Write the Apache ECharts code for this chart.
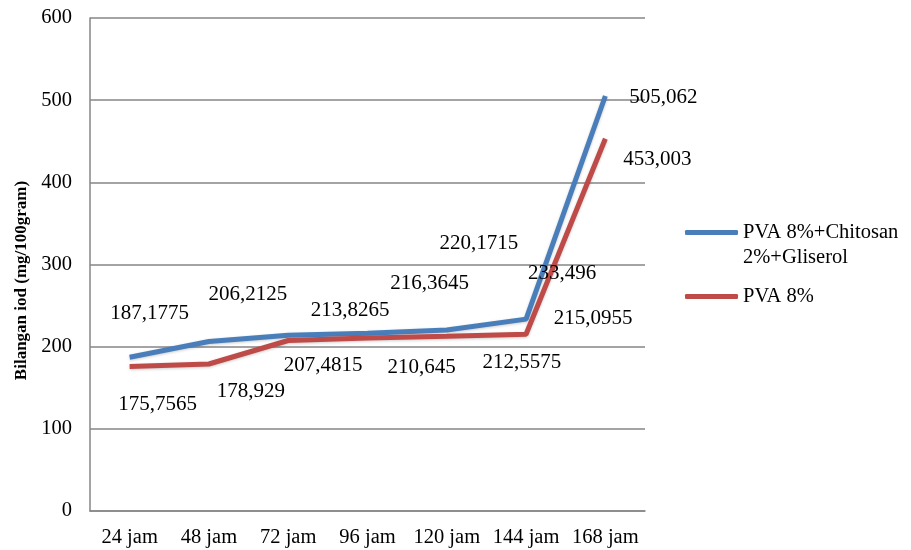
<!DOCTYPE html>
<html>
<head>
<meta charset="utf-8">
<script src="https://cdn.jsdelivr.net/npm/echarts@6/dist/echarts.min.js"></script>
<style>
  html, body { margin: 0; padding: 0; background: #ffffff; }
  #chart { width: 911px; height: 550px; }
</style>
</head>
<body>
<div id="chart"></div>
<script>
// Iodine value over storage time
const categories = ['24 jam', '48 jam', '72 jam', '96 jam', '120 jam', '144 jam', '168 jam'];
const blendName = 'PVA 8%+Chitosan 2%+Gliserol';
const pvaName = 'PVA 8%';
const blendValues = [187.1775, 206.2125, 213.8265, 216.3645, 220.1715, 233.496, 505.062];
const pvaValues = [175.7565, 178.929, 207.4815, 210.645, 212.5575, 215.0955, 453.003];
const yTicks = { min: 0, max: 600, interval: 100 };

// label nudges (px) from each point, keeps labels clear of the lines
const blendNudge = [[20, -44], [39, -47], [62, -25], [62, -50], [32, -87], [36, -46], [58, 1]];
const pvaNudge = [[28, 38], [42, 28], [35, 25], [54, 30], [75, 26], [67, -16], [52, 21]];

const serif = '"Liberation Serif", "DejaVu Serif", serif';
const fmt = v => String(v).replace('.', ',');

// legend text: the long name wraps; a blank first line keeps the
// swatch level with the first line of text
const legendText = name => name === blendName
  ? ' \nPVA 8%+Chitosan\n2%+Gliserol'
  : name;

function withLabels(values, nudge) {
  return values.map((v, i) => ({ value: v, label: { offset: nudge[i] } }));
}

function makeSeries(name, values, nudge, color) {
  return {
    name: name,
    type: 'line',
    data: withLabels(values, nudge),
    symbol: 'circle',
    symbolSize: 0,
    showSymbol: true,
    lineStyle: { color: color, width: 5, shadowColor: 'rgba(0,0,0,0.2)', shadowBlur: 3, shadowOffsetY: 1 },
    itemStyle: { color: color },
    label: {
      show: true,
      position: 'inside',
      formatter: p => fmt(p.value),
      fontFamily: serif,
      fontSize: 21,
      color: '#000'
    },
    emphasis: { disabled: true },
    animation: false
  };
}

const chart = echarts.init(document.getElementById('chart'));
chart.setOption({
  backgroundColor: '#ffffff',
  animation: false,
  grid: { left: 90, right: 266, top: 18, bottom: 39, containLabel: false },
  legend: {
    orient: 'vertical',
    left: 685,
    top: 195,
    padding: 0,
    itemWidth: 53,
    itemHeight: 5,
    itemGap: 14,
    icon: 'roundRect',
    formatter: legendText,
    textStyle: { fontFamily: serif, fontSize: 20.5, color: '#000', lineHeight: 25 },
    data: [blendName, pvaName]
  },
  xAxis: {
    type: 'category',
    data: categories,
    boundaryGap: true,
    axisLine: { lineStyle: { color: '#868686', width: 1.5 } },
    axisTick: { show: false },
    axisLabel: { interval: 0, fontFamily: serif, fontSize: 20.5, color: '#000', margin: 16 }
  },
  yAxis: {
    type: 'value',
    min: yTicks.min,
    max: yTicks.max,
    interval: yTicks.interval,
    name: 'Bilangan iod (mg/100gram)',
    nameLocation: 'middle',
    nameGap: 60,
    nameRotate: 90,
    nameTextStyle: { fontFamily: serif, fontSize: 17, fontWeight: 'bold', color: '#000', padding: [0, 32, 0, 0] },
    axisLine: { show: true, lineStyle: { color: '#868686', width: 1.5 } },
    axisTick: { show: false },
    splitLine: { show: true, lineStyle: { color: '#868686', width: 1.5 } },
    axisLabel: { fontFamily: serif, fontSize: 20.5, color: '#000', margin: 18 }
  },
  series: [
    makeSeries(blendName, blendValues, blendNudge, '#4A7EBB'),
    makeSeries(pvaName, pvaValues, pvaNudge, '#BE4B48')
  ]
});
</script>
</body>
</html>
